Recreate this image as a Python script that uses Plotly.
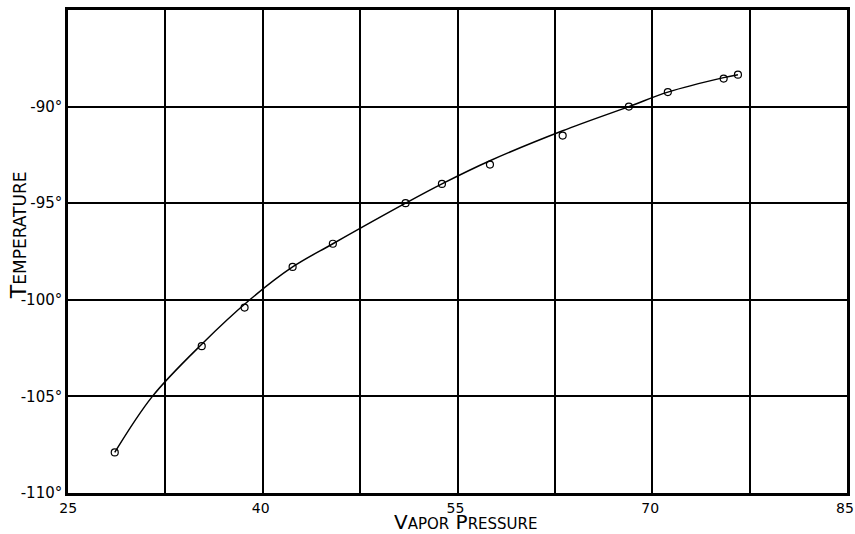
import plotly.graph_objects as go

# Observed points (vapor pressure, temperature)
pressure = [28.6, 35.3, 38.6, 42.3, 45.4, 51.0, 53.8, 57.5, 63.1, 68.2, 71.2, 75.5, 76.6]
temperature = [-107.9, -102.4, -100.4, -98.3, -97.1, -95.0, -94.0, -93.0, -91.5, -90.0, -89.25, -88.55, -88.35]

# Smooth curve as drawn in the figure
curve_x = [28.6, 31.5, 35.3, 39.0, 42.3, 45.4, 51.0, 53.8, 57.5, 63.1, 68.2, 71.2, 75.5, 76.6]
curve_y = [-107.9, -105.0, -102.3, -100.0, -98.3, -97.1, -95.0, -94.0, -92.8, -91.25, -90.0, -89.25, -88.5, -88.35]

x_grid = [25, 32.5, 40, 47.5, 55, 62.5, 70, 77.5, 85]
x_labels = ["\u00a025", "", "40", "", "55", "", "70", "", "85"]
y_ticks = [-110, -105, -100, -95, -90]
y_labels = ["-110°", "-105°", "-100°", "-95°", "-90°"]

fig = go.Figure()
fig.add_trace(go.Scatter(x=curve_x, y=curve_y, mode="lines",
                         line=dict(color="black", width=1.5, shape="spline", smoothing=1.0),
                         hoverinfo="skip", showlegend=False))
fig.add_trace(go.Scatter(x=pressure, y=temperature, mode="markers",
                         marker=dict(symbol="circle-open", size=7, color="black",
                                     line=dict(width=1.2, color="black")),
                         showlegend=False))

font_family = "DejaVu Sans"
fig.update_layout(
    width=855, height=534,
    margin=dict(l=68, r=8, t=10, b=41, autoexpand=False),
    paper_bgcolor="white", plot_bgcolor="white",
    font=dict(family=font_family, color="black"),
    xaxis=dict(range=[25, 85], tickmode="array", tickvals=x_grid, ticktext=x_labels,
               showgrid=True, gridcolor="black", gridwidth=2, automargin=False,
               showline=True, linecolor="black", linewidth=2.5, mirror=True,
               zeroline=False, ticks="", tickfont=dict(size=14, family=font_family),
               ticklabelstandoff=0, ticklabelshift=-2, ticklabeloverflow="allow"),
    yaxis=dict(range=[-110, -85], tickmode="array", tickvals=y_ticks, ticktext=y_labels,
               showgrid=True, gridcolor="black", gridwidth=2, automargin=False,
               showline=True, linecolor="black", linewidth=2.5, mirror=True,
               zeroline=False, ticks="", tickfont=dict(size=15, family=font_family),
               ticklabeloverflow="allow"),
    annotations=[
        dict(text="V<span style='font-size:15px'>APOR</span> P<span style='font-size:15px'>RESSURE</span>",
             xref="paper", yref="paper", x=0.51, y=-0.06, yanchor="middle", xanchor="center",
             showarrow=False, font=dict(size=20)),
        dict(text="T<span style='font-size:17px'>EMPERATURE</span>",
             xref="paper", yref="paper", x=-0.064, y=0.534, yanchor="middle", xanchor="center",
             textangle=-90, showarrow=False, font=dict(size=22)),
    ],
)

fig.write_html("out.html", config={"displayModeBar": False},
               post_script="document.body.style.margin='0';document.body.style.padding='0';")
